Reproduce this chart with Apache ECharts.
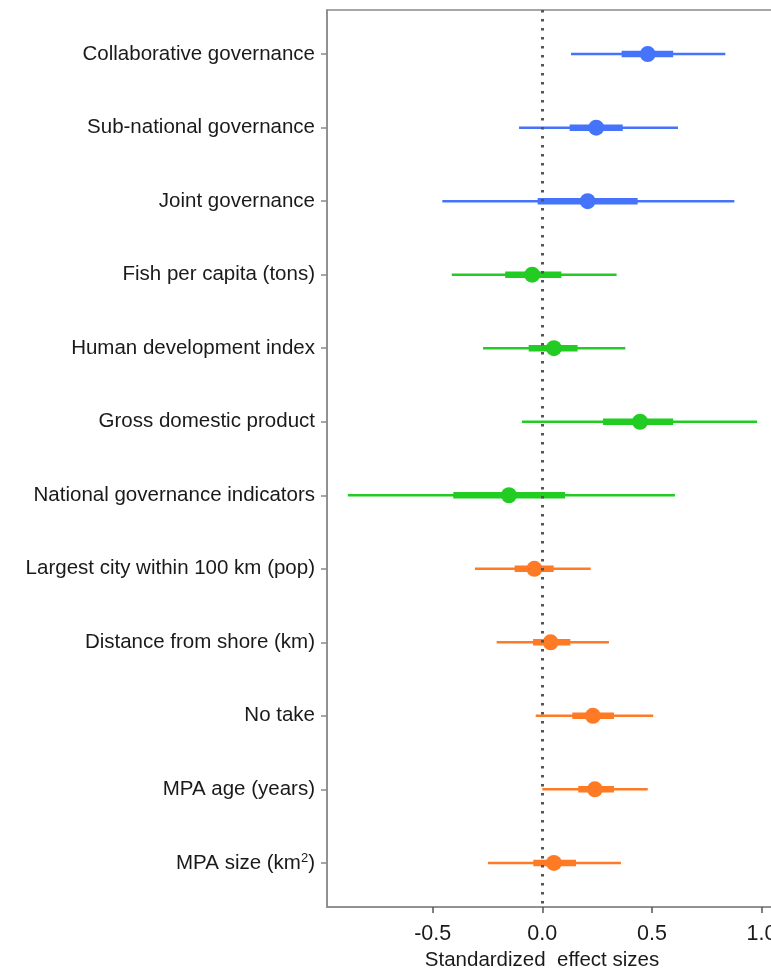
<!DOCTYPE html>
<html>
<head>
<meta charset="utf-8">
<script src="https://cdn.jsdelivr.net/npm/echarts@6/dist/echarts.min.js"></script>
<style>html,body{margin:0;padding:0;background:#fff}#c{width:771px;height:972px}</style>
</head>
<body>
<div id="c"></div>
<script>
const categories = [
  'Collaborative governance','Sub-national governance','Joint governance',
  'Fish per capita (tons)','Human development index','Gross domestic product',
  'National governance indicators','Largest city within 100 km (pop)',
  'Distance from shore (km)','No take','MPA age (years)','MPA size (km{sup|2})'
];
const groups = ['gov','gov','gov','nat','nat','nat','nat','loc','loc','loc','loc','loc'];
const estimate = [0.481,0.246,0.207,-0.046,0.053,0.446,-0.152,-0.036,0.038,0.231,0.240,0.053];
const low50   = [0.362,0.125,-0.021,-0.169,-0.062,0.277,-0.406,-0.126,-0.042,0.137,0.164,-0.041];
const high50  = [0.597,0.367,0.435,0.087,0.161,0.597,0.104,0.052,0.128,0.327,0.327,0.154];
const low95   = [0.131,-0.106,-0.456,-0.413,-0.270,-0.093,-0.887,-0.307,-0.208,-0.030,0.000,-0.248];
const high95  = [0.835,0.619,0.876,0.339,0.379,0.980,0.605,0.221,0.304,0.506,0.481,0.359];
const xTicks = [-0.5, 0, 0.5, 1.0];
const groupColors = {gov:'#4573FA', nat:'#22CC22', loc:'#FF7A24'};

const data = categories.map((c, i) => [i + 1, low95[i], low50[i], estimate[i], high50[i], high95[i]]);

const chart = echarts.init(document.getElementById('c'), null, {renderer:'canvas'});
const rowValues = categories.map((c, i) => i + 1);

chart.setOption({
  animation: false,
  backgroundColor: '#fff',
  grid: {left: 327, top: 10, bottom: 65, right: -3, containLabel: false, outerBoundsMode: 'none',
         show: true, borderColor: '#8a8a8a', borderWidth: 1.5},
  xAxis: {
    type: 'value', min: -0.982, max: 1.057,
    splitLine: {show: false},
    axisLine: {show: true, onZero: false, lineStyle: {color: '#8a8a8a', width: 1.5}},
    axisTick: {show: true, length: 6, customValues: xTicks, lineStyle: {color: '#555', width: 1.5}},
    axisLabel: {customValues: xTicks, formatter: v => v.toFixed(1), color: '#1a1a1a',
                fontFamily: 'Liberation Sans', fontSize: 21.5, margin: 16},
    name: 'Standardized  effect sizes', nameLocation: 'middle', nameGap: 42,
    nameTextStyle: {color: '#1a1a1a', fontFamily: 'Liberation Sans', fontSize: 20.5, padding: [0, 17, 0, 0]}
  },
  yAxis: {
    type: 'value', inverse: true, min: 0.4, max: 12.6,
    splitLine: {show: false},
    axisLine: {show: true, onZero: false, lineStyle: {color: '#8a8a8a', width: 1.5}},
    axisTick: {show: true, length: 6, customValues: rowValues, lineStyle: {color: '#8a8a8a', width: 1.5}},
    axisLabel: {customValues: rowValues, formatter: v => categories[Math.round(v) - 1],
                color: '#1a1a1a', fontFamily: 'Liberation Sans', fontSize: 20.5, margin: 12,
                rich: {sup: {fontSize: 13, verticalAlign: 'top', padding: [0, 0, 8, 0],
                             color: '#1a1a1a', fontFamily: 'Liberation Sans'}}}
  },
  series: [
    {
      type: 'scatter', data: [], silent: true,
      markLine: {
        silent: true, symbol: 'none', label: {show: false},
        lineStyle: {color: '#555', width: 3, type: [2.5, 6.5]},
        data: [{xAxis: 0}]
      }
    },
    {
      type: 'custom',
      data: data,
      encode: {x: [1, 2, 3, 4, 5], y: 0},
      renderItem: function (params, api) {
        const idx = params.dataIndex;
        const color = groupColors[groups[idx]];
        const y = api.value(0);
        const a = api.coord([api.value(1), y]);
        const b = api.coord([api.value(2), y]);
        const m = api.coord([api.value(3), y]);
        const c = api.coord([api.value(4), y]);
        const d = api.coord([api.value(5), y]);
        return {
          type: 'group',
          children: [
            {type: 'line', shape: {x1: a[0], y1: a[1], x2: d[0], y2: d[1]},
             style: {stroke: color, lineWidth: 2.5}},
            {type: 'line', shape: {x1: b[0], y1: b[1], x2: c[0], y2: c[1]},
             style: {stroke: color, lineWidth: 6.5}},
            {type: 'circle', shape: {cx: m[0], cy: m[1], r: 8},
             style: {fill: color}}
          ]
        };
      }
    }
  ]
});
</script>
</body>
</html>
